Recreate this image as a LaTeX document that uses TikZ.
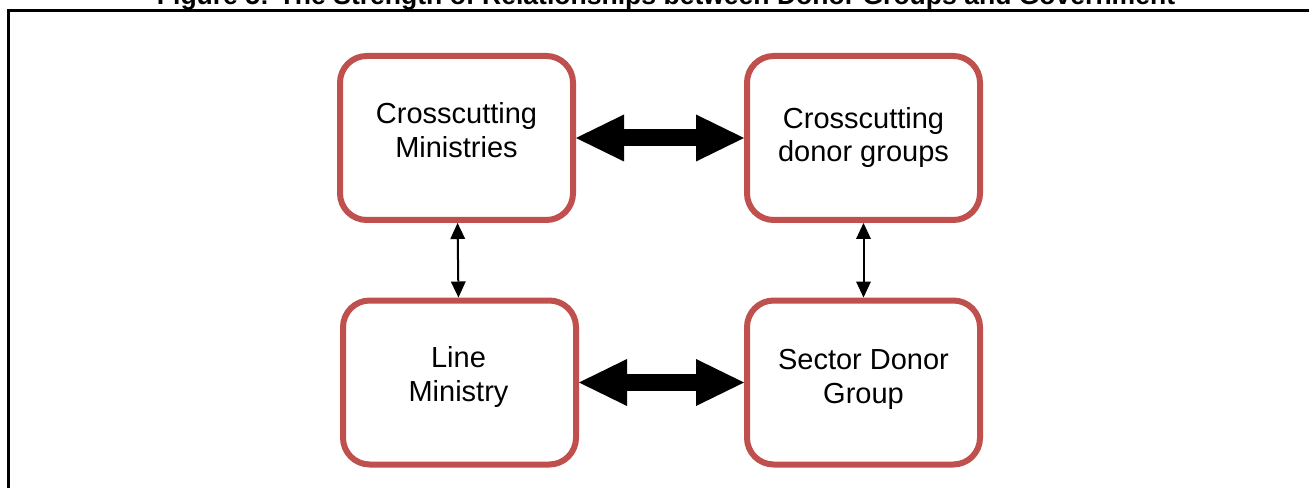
\documentclass[tikz,border=0pt]{standalone}
\usepackage{fontspec}
\setmainfont{Liberation Sans}
\usetikzlibrary{arrows.meta}
\definecolor{boxred}{RGB}{192,80,77}
\begin{document}
\begin{tikzpicture}[x=0.75pt,y=-0.75pt,
  box/.style={draw=boxred,line width=4.5pt,rounded corners=20pt,
    minimum width=174.75pt,minimum height=123pt,inner sep=0pt,fill=white},
  lbl/.style={font=\fontsize{21.75}{25.1}\selectfont,inner sep=0pt,anchor=base},
  title/.style={font=\fontsize{19.9}{24}\selectfont\bfseries,inner sep=0pt,anchor=base},
  bigarrow/.style={line width=12.75pt,
    {Triangle[width=35.25pt,length=36pt,line width=0pt]}-{Triangle[width=35.25pt,length=36pt,line width=0pt]}},
  thinarrow/.style={line width=1.5pt,
    {Triangle[width=11.25pt,length=12pt,line width=0pt]}-{Triangle[width=11.25pt,length=12pt,line width=0pt]}},
  frame/.style={line width=2pt,black}]
\useasboundingbox (0,0) rectangle (1309,488);
\clip (0,0) rectangle (1309,488);
\node[title] (ttl) at (666,4.5) {Figure 5: The Strength of Relationships between Donor Groups and Government};
\draw[frame] (8.7,520) -- (8.7,10.7) -- (1330,10.7);
% boxes
\node[box] (cm) at (456.5,138) {};
\node[box] (cd) at (863.5,138) {};
\node[box] (lm) at (459.5,382.5) {};
\node[box] (sd) at (863.5,382.5) {};
% texts
\node[lbl] (cmt) at (456.5,123.8) {\begin{tabular}[t]{@{}c@{}}Crosscutting\\Ministries\end{tabular}};
\node[lbl] (cdt) at (863.5,128.2) {\begin{tabular}[t]{@{}c@{}}Crosscutting\\donor groups\end{tabular}};
\node[lbl] (lmt) at (458.5,367.8) {\begin{tabular}[t]{@{}c@{}}Line\\Ministry\end{tabular}};
\node[lbl] (sdt) at (863.5,369.8) {\begin{tabular}[t]{@{}c@{}}Sector Donor\\Group\end{tabular}};
% connectors
\draw[bigarrow] (cm) -- (cd);
\draw[bigarrow] (lm) -- (sd);
\draw[thinarrow] (cm) -- (lm);
\draw[thinarrow] (cd) -- (sd);
\end{tikzpicture}
\end{document}
